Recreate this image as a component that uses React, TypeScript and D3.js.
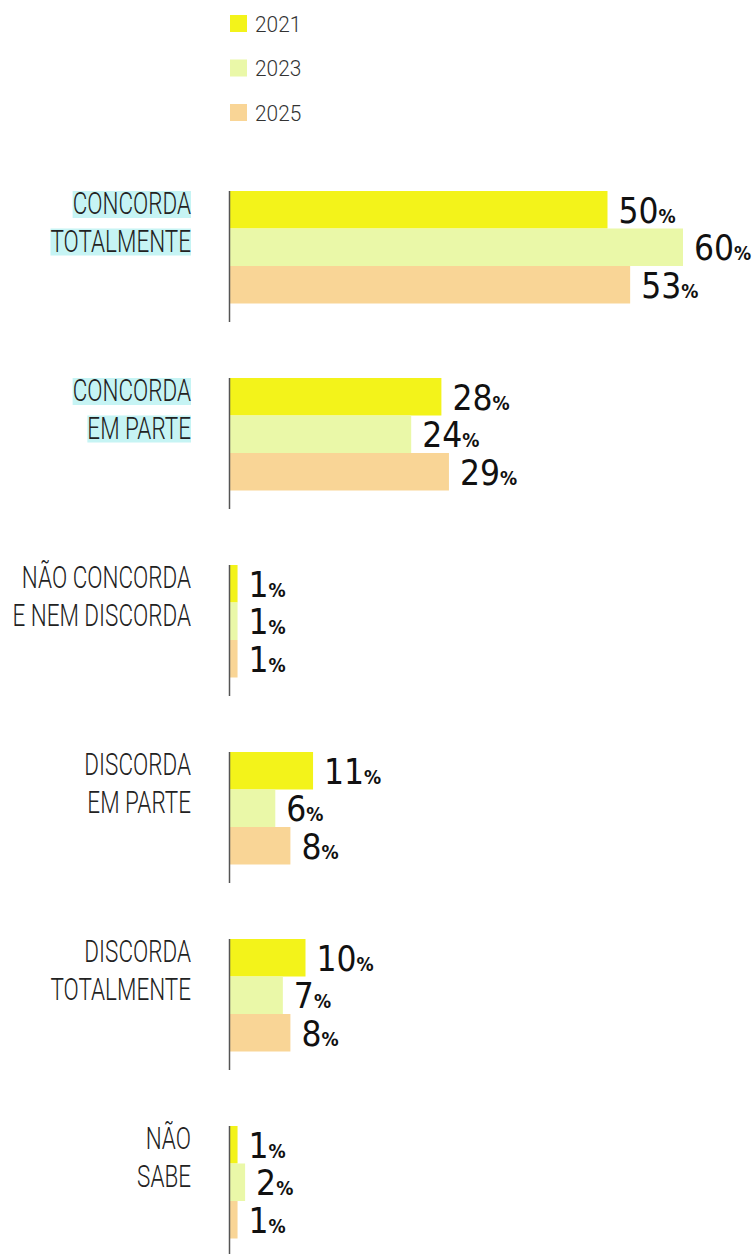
import React, { useEffect, useRef } from "react";
import * as d3 from "d3";

const categories = [
  ["CONCORDA", "TOTALMENTE"],
  ["CONCORDA", "EM PARTE"],
  ["NÃO CONCORDA", "E NEM DISCORDA"],
  ["DISCORDA", "EM PARTE"],
  ["DISCORDA", "TOTALMENTE"],
  ["NÃO", "SABE"],
];
const highlighted = [true, true, false, false, false, false];
const years = ["2021", "2023", "2025"];
const colors = ["#f3f31a", "#eaf8a8", "#f9d596"];
const v2021 = [50, 28, 1, 11, 10, 1];
const v2023 = [60, 24, 1, 6, 7, 2];
const v2025 = [53, 29, 1, 8, 8, 1];
const series = [v2021, v2023, v2025];

const LABEL_FONT = "Roboto, 'DejaVu Sans', sans-serif";
const NUM_FONT = "'DejaVu Sans Condensed', 'DejaVu Sans', sans-serif";
const SX = 0.725;
const LEG_SX = 0.95;

export default function App() {
  const ref = useRef<SVGSVGElement>(null);
  useEffect(() => {
    const svg = d3.select(ref.current);
    svg.selectAll("*").remove();
    const x0 = 230;
    const x = d3.scaleLinear().domain([0, 60]).range([x0, 683]);
    const catIdx = categories.map((_, i) => String(i));
    const gy = d3.scaleBand().domain(catIdx).range([191, 191 + 187 * 6]).paddingInner(0);
    const by = d3.scaleBand().domain(years).range([0, 112.5]);

    // legend
    const leg = svg.append("g");
    years.forEach((y, i) => {
      const yy = 15 + i * 44.5;
      leg.append("rect").attr("x", 230).attr("y", yy).attr("width", 17).attr("height", 17).attr("fill", colors[i]);
      leg.append("g").attr("transform", `translate(255,${yy + 16.5}) scale(${LEG_SX},1)`)
        .append("text").text(y)
        .attr("font-family", LABEL_FONT).attr("font-size", 22).attr("font-weight", 300).attr("fill", "#333");
    });

    categories.forEach((lines, ci) => {
      const g = svg.append("g").attr("transform", `translate(0,${gy(String(ci))})`);
      // labels
      lines.forEach((ln, li) => {
        const baseline = 23 + li * 37.5;
        const lg = g.append("g").attr("transform", `translate(191,${baseline}) scale(${SX},1)`);
        const t = lg.append("text").attr("x", 0).attr("y", 0).attr("text-anchor", "end")
          .attr("font-family", LABEL_FONT).attr("font-size", 31).attr("font-weight", 300).attr("fill", "#222").text(ln);
        if (highlighted[ci]) {
          const w = (t.node() as SVGTextElement).getComputedTextLength();
          lg.insert("rect", "text").attr("x", -w).attr("y", -23).attr("width", w).attr("height", 27)
            .attr("fill", "#c6f4f4");
        }
      });
      // bars
      series.forEach((s, si) => {
        const yy = by(years[si])!;
        g.append("rect").attr("x", x0).attr("y", yy).attr("width", x(s[ci]) - x0).attr("height", by.bandwidth())
          .attr("fill", colors[si]);
        const t = g.append("text").attr("x", x(s[ci]) + 11).attr("y", yy + by.bandwidth() / 2 + 13)
          .attr("font-family", NUM_FONT).attr("font-size", 35).attr("font-weight", 500).attr("fill", "#111");
        t.append("tspan").text(String(s[ci]));
        t.append("tspan").attr("font-size", 19).attr("font-weight", 700).text("%");
      });
      g.append("line").attr("x1", 229.5).attr("x2", 229.5).attr("y1", 0).attr("y2", 131)
        .attr("stroke", "#555").attr("stroke-width", 1.5);
    });
  }, []);
  return <svg ref={ref} width={752} height={1254} style={{ display: "block", position: "absolute", left: 0, top: 0, background: "#fff" }} />;
}
